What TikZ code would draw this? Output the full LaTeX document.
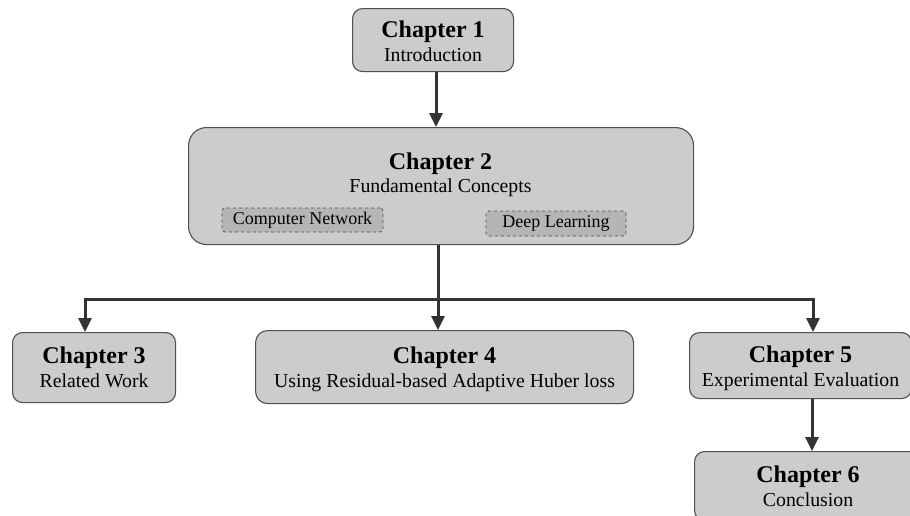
\documentclass[tikz,border=0pt]{standalone}
\usepackage{fontspec}
\setmainfont{Liberation Serif}
\usetikzlibrary{arrows.meta}

\definecolor{boxfill}{HTML}{CCCCCC}
\definecolor{boxline}{HTML}{505050}
\definecolor{subfill}{HTML}{B5B5B5}
\definecolor{arrcol}{HTML}{333333}

\tikzset{
  chap/.style={draw=boxline, fill=boxfill, line width=1.1pt, rounded corners=10pt,
    align=center, inner sep=0pt, anchor=north west,
    font=\fontsize{19.8}{23.5}\selectfont},
  topic/.style={draw=boxline, fill=subfill, dashed, line width=0.8pt, rounded corners=3pt,
    inner sep=0pt, font=\fontsize{18}{20}\selectfont},
  conn/.style={draw=arrcol, line width=3pt},
  arr/.style={conn, -{Triangle[length=14pt,width=13pt]}},
}
\newcommand{\ctitle}[1]{{\fontsize{24}{23.5}\selectfont\bfseries #1}}
% extra head room above a title line, to lower the text block a little
\newcommand{\lowerby}[1]{\rule{0pt}{\dimexpr 17pt+#1\relax}}

\begin{document}
\begin{tikzpicture}[x=1pt,y=-1pt]
  \useasboundingbox (0,0) rectangle (910,515);
  \clip (0,0) rectangle (910,515);

  % chapter boxes
  \node[chap, minimum width=161pt, minimum height=63pt] (c1) at (352,8)
    {\lowerby{2pt}\ctitle{Chapter 1}\\Introduction};
  \node[chap, rounded corners=18pt, minimum width=505pt, minimum height=117pt] (c2) at (188,127) {};
  \node[align=center, inner sep=0pt, font=\fontsize{19.8}{23.5}\selectfont] (c2t) at (440.5,175)
    {\ctitle{Chapter 2}\\Fundamental Concepts};
  \node[topic, minimum width=161pt, minimum height=24pt] (cn) at (302.5,220) {Computer Network};
  \node[topic, minimum width=140pt, minimum height=25pt] (dl) at (556,223.5) {Deep Learning};

  \node[chap, minimum width=163pt, minimum height=70pt] (c3) at (12,332)
    {\ctitle{Chapter 3}\\Related Work};
  \node[chap, rounded corners=12pt, minimum width=378pt, minimum height=73pt] (c4) at (255,330)
    {\lowerby{4pt}\ctitle{Chapter 4}\\Using Residual-based Adaptive Huber loss};
  \node[chap, minimum width=222pt, minimum height=66pt] (c5) at (689,332)
    {\lowerby{5pt}\ctitle{Chapter 5}\\Experimental Evaluation};
  \node[chap, minimum width=227pt, minimum height=69pt] (c6) at (694,451)
    {\ctitle{Chapter 6}\\Conclusion};

  % connectors
  \coordinate (a1) at (436,0);
  \draw[arr] (c1.south -| a1) -- (c2.north -| a1);

  \coordinate (j)    at (438,299);
  \coordinate (busL) at (85,299);
  \coordinate (busR) at (813,299);
  \draw[arr] ([xshift=1.5pt]busR) -- (busL) -- (c3.north -| busL);
  \draw[arr] (busR) -- (c5.north -| busR);
  \draw[arr] (c2.south -| j) -- (c4.north -| j);

  \coordinate (a5) at (812,0);
  \draw[arr] (c5.south -| a5) -- (c6.north -| a5);
\end{tikzpicture}
\end{document}
